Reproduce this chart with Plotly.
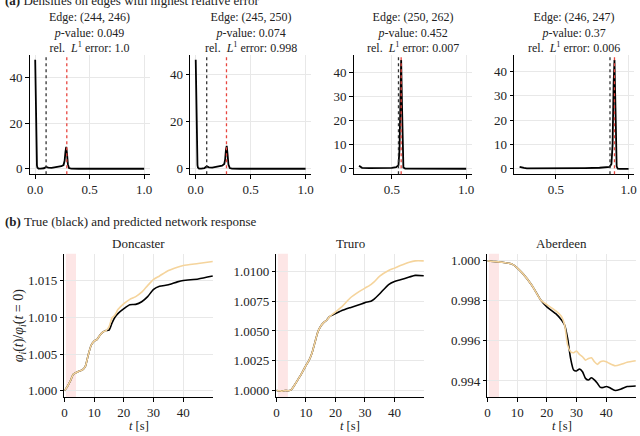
import plotly.graph_objects as go

W, H = 640, 436

# ---- (a) densities on edges with highest relative error ----
edge_names = ["(244, 246)", "(245, 250)", "(250, 262)", "(246, 247)"]
p_values = ["0.049", "0.074", "0.452", "0.37"]
l1_errors = ["1.0", "0.998", "0.007", "0.006"]

dens_x1 = [0.0, 0.004, 0.008, 0.012, 0.016, 0.02, 0.03, 0.05, 0.08, 0.1, 0.12, 0.15, 0.2, 0.24,
           0.26, 0.27, 0.278, 0.285, 0.292, 0.3, 0.31, 0.33, 0.4, 0.6, 0.8, 1.0]
dens_y1 = [47.8, 35, 15, 5, 1.5, 0.5, 0.1, 0.05, 0.2, 0.8, 0.5, 0.4, 0.7, 1.1,
           1.6, 3.5, 7.5, 9.6, 6.5, 2.0, 0.3, 0.05, 0.0, 0.0, 0.0, 0.0]
dens_x2 = [0.0, 0.004, 0.008, 0.012, 0.016, 0.02, 0.03, 0.05, 0.08, 0.1, 0.12, 0.15, 0.2, 0.24,
           0.26, 0.268, 0.275, 0.282, 0.29, 0.298, 0.31, 0.33, 0.4, 0.6, 0.8, 1.0]
dens_y2 = [46.1, 34, 14, 5, 1.5, 0.5, 0.1, 0.05, 0.3, 1.0, 0.6, 0.5, 0.8, 1.3,
           2.0, 4.0, 8.0, 9.7, 6.0, 1.8, 0.3, 0.05, 0.0, 0.0, 0.0, 0.0]
dens_x3 = [0.28, 0.29, 0.3, 0.35, 0.4, 0.45, 0.5, 0.53, 0.545, 0.552, 0.558, 0.563, 0.568,
           0.573, 0.578, 0.59, 0.7, 0.8, 0.9, 1.0]
dens_y3 = [1.2, 0.7, 0.4, 0.3, 0.3, 0.3, 0.4, 0.7, 1.5, 8, 32, 45, 28,
           6, 0.5, 0.05, 0.0, 0.0, 0.0, 0.0]
dens_x4 = [0.25, 0.26, 0.28, 0.3, 0.4, 0.5, 0.6, 0.7, 0.8, 0.85, 0.87, 0.882, 0.89, 0.897,
           0.903, 0.908, 0.913, 0.918, 0.925, 0.94, 1.0]
dens_y4 = [0.8, 0.6, 0.35, 0.2, 0.15, 0.15, 0.2, 0.3, 0.45, 0.6, 0.8, 2, 10, 35,
           44.6, 30, 8, 1, 0.1, 0.0, 0.0]
true_vals = [0.1, 0.1, 0.545, 0.872]
pred_vals = [0.29, 0.28, 0.563, 0.903]

# ---- (b) true and predicted network response ----
stations = ["Doncaster", "Truro", "Aberdeen"]

t_don = [0, 1, 2, 3, 4, 5, 6, 7, 8, 9, 10, 11, 12, 13, 14, 15, 16, 17, 18, 20, 22, 24, 26, 28,
         30, 32, 35, 38, 40, 45, 49.9]
true_don = [1.0, 1.0006, 1.00135, 1.00225, 1.0025, 1.0027, 1.00284, 1.0033, 1.00486, 1.0062,
            1.00676, 1.007, 1.0076, 1.008, 1.0082, 1.00824, 1.0092, 1.01, 1.0105, 1.01117,
            1.01171, 1.01175, 1.0121, 1.0128, 1.01378, 1.0142, 1.0144, 1.0148, 1.015, 1.0152,
            1.01559]
pred_don = [1.0, 1.0006, 1.00135, 1.00225, 1.0025, 1.0027, 1.00284, 1.0033, 1.00486, 1.0062,
            1.00676, 1.007, 1.0076, 1.008, 1.0082, 1.0087, 1.0099, 1.0103, 1.01104, 1.01185,
            1.01243, 1.0128, 1.0134, 1.0143, 1.01514, 1.0156, 1.01635, 1.0168, 1.01703, 1.0173,
            1.01757]

t_tru = [0, 1, 2, 3, 4, 5, 6, 8, 10, 11, 12, 13, 14, 15, 16, 17, 18, 20, 22, 25, 28, 30, 32,
         33, 35, 38, 40, 42, 45, 47, 49.9]
true_tru = [1.0, 0.99998, 0.99995, 1.0, 0.99998, 1.00005, 1.0004, 1.0012, 1.0021, 1.0025,
            1.0031, 1.004, 1.0049, 1.0054, 1.0057, 1.0059, 1.0062, 1.00646, 1.0067, 1.00696,
            1.0072, 1.00738, 1.0075, 1.00766, 1.00813, 1.0089, 1.00916, 1.0093, 1.00953,
            1.00967, 1.00964]
pred_tru = [1.0, 0.99998, 0.99995, 1.0, 0.99998, 1.00005, 1.0004, 1.0012, 1.0021, 1.0025,
            1.0031, 1.004, 1.0049, 1.0054, 1.0057, 1.0059, 1.0062, 1.0066, 1.007, 1.00777,
            1.0083, 1.0086, 1.0089, 1.0091, 1.0096, 1.01008, 1.01028, 1.0105, 1.01078,
            1.01089, 1.01089]

t_abe = [0, 2, 5, 8, 9, 10, 12, 15, 18, 20, 23, 25, 26, 27, 28, 29, 30, 31, 32, 33, 34, 35,
         36, 37, 38, 39, 40, 41, 43, 45, 47, 49.9]
true_abe = [1.0, 0.99997, 0.99993, 0.99985, 0.99977, 0.99965, 0.99935, 0.99877, 0.99803,
            0.9977, 0.99736, 0.99703, 0.99678, 0.99612, 0.99512, 0.99455, 0.9945, 0.9946,
            0.99446, 0.99413, 0.99405, 0.99416, 0.99405, 0.99388, 0.99368, 0.99367, 0.99372,
            0.99367, 0.99352, 0.9936, 0.99372, 0.99375]
pred_abe = [1.0, 0.99997, 0.99993, 0.99985, 0.99977, 0.99965, 0.99935, 0.99877, 0.99803,
            0.99781, 0.9975, 0.9972, 0.99678, 0.99579, 0.99546, 0.99541, 0.99549, 0.99532,
            0.99521, 0.99504, 0.99512, 0.99516, 0.99496, 0.99483, 0.99496, 0.995, 0.99496,
            0.99488, 0.99476, 0.99483, 0.99493, 0.99501]

perturb_window = [0.5, 3.9]

FONT = "Liberation Serif"
TXT = "#222222"
GRID = "#e8e8e8"
ORANGE = "#f5d49c"
RED = "#e8463f"


def px(x):
    return x / W


def py(y):
    return 1 - y / H


fig = go.Figure()

top_dom_x = [(27, 148), (189, 311), (354, 473), (516, 637)]
top_xrange = [[-0.05, 1.05], [-0.05, 1.05], [0.244, 1.036], [0.2125, 1.0375]]
top_yrange = [[-2.4, 50.0], [-2.3, 48.2], [-2.25, 47.2], [-2.2, 46.8]]
top_yticks = [[0, 20, 40], [0, 20, 40], [0, 10, 20, 30, 40], [0, 10, 20, 30, 40]]
top_xticks = [[0.0, 0.5, 1.0], [0.0, 0.5, 1.0], [0.5, 1.0], [0.5, 1.0]]
dens_x = [dens_x1, dens_x2, dens_x3, dens_x4]
dens_y = [dens_y1, dens_y2, dens_y3, dens_y4]

bot_dom_x = [(62, 212), (276, 425), (489, 639)]
bot_yrange = [[0.99915, 1.01861], [0.99944, 1.01148], [0.99319, 1.00035]]
bot_yticks = [[1.0, 1.005, 1.01, 1.015], [1.0, 1.0025, 1.005, 1.0075, 1.01],
              [0.994, 0.996, 0.998, 1.0]]
bot_fmt = [".3f", ".4f", ".3f"]
bot_t = [t_don, t_tru, t_abe]
bot_true = [true_don, true_tru, true_abe]
bot_pred = [pred_don, pred_tru, pred_abe]

axis_common = dict(showline=True, linecolor="black", linewidth=1.2, ticks="outside",
                   ticklen=3.5, tickwidth=1, tickcolor="black", showgrid=True,
                   gridcolor=GRID, gridwidth=0.8, zeroline=False,
                   tickfont=dict(family=FONT, size=13, color=TXT))

layout = {}
shapes = []
annotations = []

for i in range(4):
    n = i + 1
    xa = "x" if n == 1 else f"x{n}"
    ya = "y" if n == 1 else f"y{n}"
    fig.add_trace(go.Scatter(x=dens_x[i], y=dens_y[i], mode="lines",
                             line=dict(color="black", width=1.8),
                             xaxis=xa, yaxis=ya, showlegend=False))
    layout[f"xaxis{n}"] = dict(axis_common, domain=[px(top_dom_x[i][0]), px(top_dom_x[i][1])],
                               range=top_xrange[i], tickvals=top_xticks[i], tickformat=".1f",
                               anchor=ya)
    layout[f"yaxis{n}"] = dict(axis_common, domain=[py(175), py(55)], range=top_yrange[i],
                               tickvals=top_yticks[i], anchor=xa)
    for v, c in ((true_vals[i], "#333333"), (pred_vals[i], RED)):
        shapes.append(dict(type="line", xref=xa, yref=f"{ya} domain", x0=v, x1=v, y0=0, y1=1,
                           line=dict(color=c, width=1.3, dash="dot"), layer="above"))
    cx = px((top_dom_x[i][0] + top_dom_x[i][1]) / 2)
    title = (f"Edge: {edge_names[i]}<br><i>p</i>-value: {p_values[i]}"
             f"<br>rel.  <i>L</i><sup>1</sup> error: {l1_errors[i]}")
    annotations.append(dict(text=title, x=cx, y=py(32.5), xref="paper", yref="paper",
                            xanchor="center", yanchor="middle", showarrow=False,
                            font=dict(family=FONT, size=12, color=TXT)))

for j in range(3):
    n = j + 5
    xa = f"x{n}"
    ya = f"y{n}"
    shapes.append(dict(type="rect", xref=xa, yref=f"{ya} domain", x0=perturb_window[0],
                       x1=perturb_window[1], y0=0, y1=1, fillcolor="#fde6e6",
                       line=dict(width=0), layer="below"))
    fig.add_trace(go.Scatter(x=bot_t[j], y=bot_true[j], mode="lines",
                             line=dict(color="black", width=1.6, shape="spline", smoothing=0.6),
                             xaxis=xa, yaxis=ya, showlegend=False))
    fig.add_trace(go.Scatter(x=bot_t[j], y=bot_pred[j], mode="lines",
                             line=dict(color=ORANGE, width=1.6, shape="spline", smoothing=0.6),
                             xaxis=xa, yaxis=ya, showlegend=False))
    layout[f"xaxis{n}"] = dict(axis_common, domain=[px(bot_dom_x[j][0]), px(bot_dom_x[j][1])],
                               range=[0, 50], tickvals=[0, 10, 20, 30, 40], anchor=ya)
    layout[f"yaxis{n}"] = dict(axis_common, domain=[py(399), py(255)], range=bot_yrange[j],
                               tickvals=bot_yticks[j], tickformat=bot_fmt[j], anchor=xa)
    cx = px((bot_dom_x[j][0] + bot_dom_x[j][1]) / 2)
    annotations.append(dict(text=stations[j], x=cx, y=py(245), xref="paper", yref="paper",
                            xanchor="center", yanchor="middle", showarrow=False,
                            font=dict(family=FONT, size=13, color=TXT)))
    annotations.append(dict(text="<i>t</i> [s]", x=cx, y=py(436), xref="paper", yref="paper",
                            xanchor="center", yanchor="bottom", showarrow=False, borderpad=0,
                            font=dict(family=FONT, size=12.5, color=TXT)))

annotations.append(dict(text="<i>φ<sub>i</sub></i>(<i>t</i>)/<i>φ<sub>i</sub></i>(<i>t</i> = 0)",
                        x=px(17), y=py(327), xref="paper", yref="paper", textangle=-90,
                        xanchor="center", yanchor="middle", showarrow=False,
                        font=dict(family=FONT, size=14, color=TXT)))
annotations.append(dict(text="<b>(a)</b> Densities on edges with highest relative error",
                        x=0, y=py(1), xref="paper", yref="paper", xanchor="left",
                        yanchor="middle", showarrow=False,
                        font=dict(family=FONT, size=13, color=TXT)))
annotations.append(dict(text="<b>(b)</b> True (black) and predicted network response",
                        x=0, y=py(223), xref="paper", yref="paper", xanchor="left",
                        yanchor="middle", showarrow=False,
                        font=dict(family=FONT, size=13, color=TXT)))

fig.update_layout(width=W, height=H, margin=dict(l=0, r=0, t=0, b=0),
                  paper_bgcolor="white", plot_bgcolor="white", showlegend=False,
                  font=dict(family=FONT, size=13, color=TXT),
                  shapes=shapes, annotations=annotations, **layout)

# page body has a default 8px margin; drop it so the figure fills the window
fig.write_html("out.html", config={"displayModeBar": False},
               post_script="document.body.style.margin='0';")
